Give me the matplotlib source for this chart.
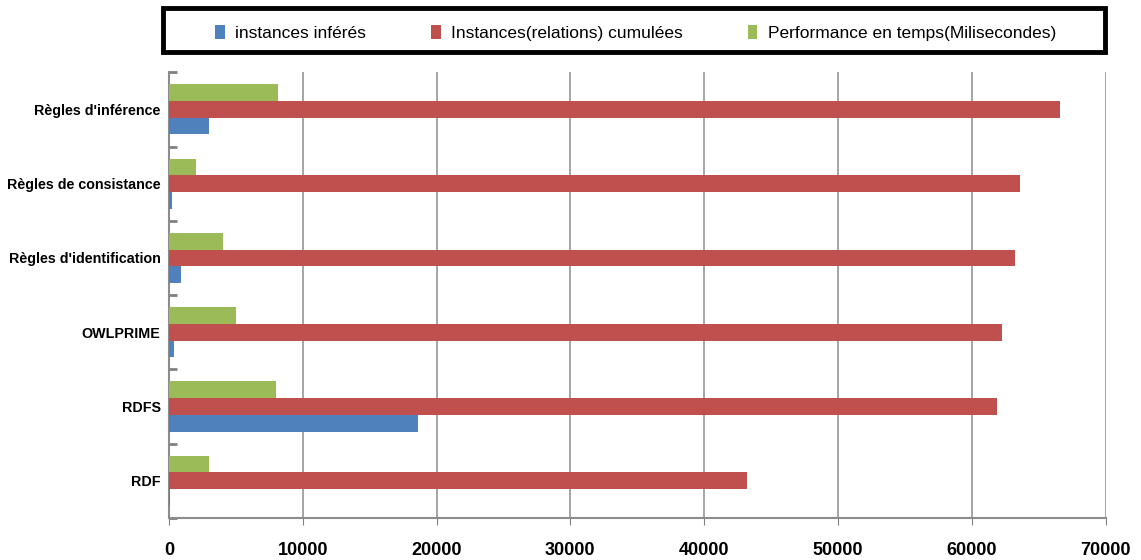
import numpy as np
import matplotlib
matplotlib.use('Agg')
import matplotlib.pyplot as plt
from matplotlib.ticker import FixedLocator
from matplotlib.patches import Rectangle

plt.rcParams['font.family'] = ['Liberation Sans', 'DejaVu Sans']

# ── Data ───────────────────────────────────────────────────────
categories = ['RDF', 'RDFS', 'OWLPRIME', "Règles d'identification",
              'Règles de consistance', "Règles d'inférence"]
instances_inferes = [60, 18600, 370, 930, 250, 3020]
instances_cumulees = [43170, 61850, 62230, 63200, 63580, 66580]
performance_temps = [3020, 8040, 5050, 4020, 2050, 8150]

series_labels = ['instances inférés', 'Instances(relations) cumulées',
                 'Performance en temps(Milisecondes)']
colors = ['#4F81BD', '#C0504D', '#9BBB59']

# ── Figure ─────────────────────────────────────────────────────
fig = plt.figure(figsize=(11.41, 5.6), dpi=100)
ax = fig.add_axes([0.148, 0.075, 0.821, 0.796])

y = np.arange(len(categories))
h = 0.225
bars = []
for i, (vals, col, lab) in enumerate(zip(
        [instances_inferes, instances_cumulees, performance_temps], colors, series_labels)):
    b = ax.barh(y + (i - 1) * h, vals, height=h, color=col, label=lab, zorder=3)
    bars.append(b)

ax.set_xlim(0, 70000)
ax.set_ylim(-0.5, len(categories) - 0.5)
ax.set_xticks(np.arange(0, 70001, 10000))
ax.set_xticklabels([str(v) for v in range(0, 70001, 10000)],
                   fontsize=13, fontweight='bold')
ax.set_yticks(y)
ax.set_yticklabels(categories, fontsize=10.3, fontweight='bold')
ax.yaxis.set_minor_locator(FixedLocator(np.arange(-0.5, len(categories), 1)))
ax.tick_params(axis='y', which='major', length=0, pad=6)
ax.tick_params(axis='y', which='minor', direction='in', length=6, width=2, color='#808080')
ax.tick_params(axis='x', which='major', direction='out', length=5, color='#808080', pad=12)

ax.grid(axis='x', color='#969696', linewidth=1.2, zorder=0)
for side in ['top', 'right']:
    ax.spines[side].set_visible(False)
for side in ['left', 'bottom']:
    ax.spines[side].set_color('#8c8c8c')
    ax.spines[side].set_linewidth(1.5)

# legend box drawn separately so it can be wider than its entries
fig.patches.append(Rectangle((0.1429, 0.907), 0.8256, 0.0786, transform=fig.transFigure,
                             fill=False, edgecolor='black', linewidth=3.5))
leg = fig.legend(handles=bars, labels=series_labels, loc='center',
                 bbox_to_anchor=(0.557, 0.941), ncol=3, fontsize=12.5, frameon=False,
                 handlelength=0.55, handleheight=0.9, handletextpad=0.6,
                 columnspacing=3.75)

fig.savefig('out.png', dpi=100)
